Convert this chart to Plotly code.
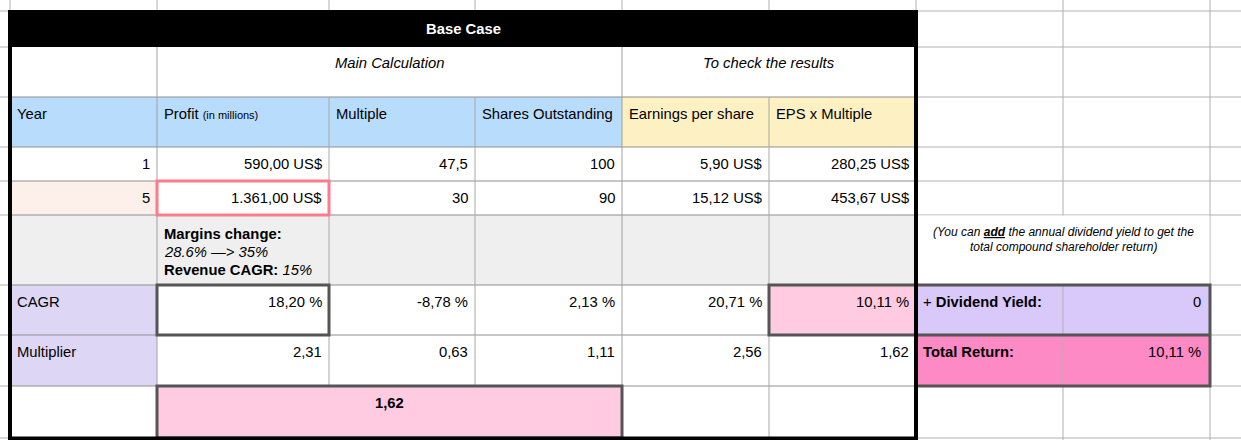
import plotly.graph_objects as go

# ---- data ----
headers = ["Year", "Profit", "Multiple", "Shares Outstanding", "Earnings per share", "EPS x Multiple"]
years = [1, 5]
profit = [590.00, 1361.00]
multiple = [47.5, 30]
shares = [100, 90]
eps = [5.90, 15.12]
eps_x_multiple = [280.25, 453.67]
cagr = [18.20, -8.78, 2.13, 20.71, 10.11]
multiplier = [2.31, 0.63, 1.11, 2.56, 1.62]
overall_multiplier = 1.62
dividend_yield = 0
total_return = 10.11

# ---- grid geometry (pixels of the sheet) ----
COL = [0, 10, 157, 329, 475, 622, 769, 916, 1063, 1210, 1241]
ROW = [0, 11, 47, 97, 147, 181, 215, 285, 335, 386, 438, 440]
W, H = 1241, 440
FONT = "Liberation Sans, Arial, Helvetica, sans-serif"
FS = 14.8


def de(v, dec=2):
    # german style number: 1.361,00
    s = f"{v:,.{dec}f}"
    return s.replace(",", "X").replace(".", ",").replace("X", ".")


def num(v):
    s = f"{v:g}"
    return s.replace(".", ",")


shapes = []
annotations = []


def rect(x0, y0, x1, y1, fill=None, line=None, lw=0):
    shapes.append(dict(type="rect", xref="x", yref="y", x0=x0, y0=y0, x1=x1, y1=y1,
                       fillcolor=fill if fill else "rgba(0,0,0,0)",
                       line=dict(color=line if line else "rgba(0,0,0,0)", width=lw)))


def hline(x0, x1, y, color="#b0b0b0", w=1):
    shapes.append(dict(type="line", xref="x", yref="y", x0=x0, x1=x1, y0=y, y1=y,
                       line=dict(color=color, width=w)))


def vline(x, y0, y1, color="#b0b0b0", w=1):
    shapes.append(dict(type="line", xref="x", yref="y", x0=x, x1=x, y0=y0, y1=y1,
                       line=dict(color=color, width=w)))


def text(t, x, y, anchor="left", size=FS, color="black"):
    annotations.append(dict(text=t, x=x, y=y, xref="x", yref="y", xanchor=anchor,
                            yanchor="middle", showarrow=False,
                            font=dict(family=FONT, size=size, color=color)))


def cell(ci, ri):
    return COL[ci], ROW[ri], COL[ci + 1], ROW[ri + 1]


BLUE = "#b8dcfb"
YELLOW = "#fdf0c2"
PEACH = "#fdf0ea"
GRAY = "#efefef"
LAV = "#ddd6f4"
PINK = "#fecbe1"
PURPLE = "#d9c9fb"
HOTPINK = "#fd8ac4"
DARK = "#555555"

# ---- fills ----
for i in range(6):
    x0, y0, x1, y1 = cell(i + 1, 3)
    rect(x0, y0, x1, y1, BLUE if i < 4 else YELLOW)
x0, y0, x1, y1 = cell(1, 5)
rect(x0, y0, x1, y1, PEACH)
rect(COL[1], ROW[6], COL[7], ROW[7], GRAY)
rect(COL[1], ROW[7], COL[2], ROW[9], LAV)
rect(COL[6], ROW[7], COL[7], ROW[8], PINK)
rect(COL[7], ROW[7], COL[9], ROW[8], PURPLE)
rect(COL[7], ROW[8], COL[9], ROW[9], HOTPINK)

# ---- gridlines ----
for y in ROW[1:-1]:
    inner = y > ROW[2]
    hline(0, COL[1], y)
    hline(COL[7], W, y)
    if inner:
        hline(COL[1], COL[7], y, "#8f8f8f")
for x in COL[1:-1]:
    if x in (COL[1],):
        vline(x, 0, ROW[1])
        continue
    if x <= COL[7]:
        vline(x, 0, ROW[1])
        if x in (COL[2], COL[5]):
            vline(x, ROW[2], ROW[10], "#a0a0a0")
        elif x < COL[7]:
            vline(x, ROW[3], ROW[10], "#a8a8a8")
    else:
        vline(x, 0, H)

# merged cells: cover inner lines
rect(COL[7] + 1, ROW[6] + 0.6, COL[9] - 0.6, ROW[7] - 0.6, "white")
rect(COL[2], ROW[9], COL[5], ROW[10], PINK)

# ---- thick borders ----
rect(COL[2], ROW[5], COL[3], ROW[6], None, "#fc7c8c", 3)
rect(COL[2], ROW[7], COL[3], ROW[8], None, DARK, 3)
rect(COL[6], ROW[7], COL[7], ROW[8], None, DARK, 3)
rect(COL[2], ROW[9], COL[5], ROW[10], None, DARK, 3)
rect(COL[7], ROW[7], COL[9], ROW[9], None, DARK, 3)
hline(COL[7], COL[9], ROW[8], DARK, 3)

# ---- black frame ----
rect(8, 10, 918, ROW[2], "black")
rect(8, 10, 12, H, "black")
rect(914, 10, 918, H, "black")
rect(8, 436.5, 918, H + 2, "black")

# ---- texts ----
PAD_L, PAD_R, OFF = 5, 5, 16.5
text("<b>Base Case</b>", (8 + 918) / 2, 29, "center", FS, "white")
text("<i>Main Calculation</i>", (COL[2] + COL[5]) / 2, ROW[2] + 16, "center")
text("<i>To check the results</i>", (COL[5] + COL[7]) / 2, ROW[2] + 16, "center")

for i, h in enumerate(headers):
    t = h
    if h == "Profit":
        t = "Profit <span style='font-size:11px'>(in millions)</span>"
    text(t, COL[i + 1] + PAD_L, ROW[3] + OFF, "left")

rows_vals = [
    [str(y) for y in years],
    [de(v) + " US$" for v in profit],
    [num(v) for v in multiple],
    [str(v) for v in shares],
    [de(v) + " US$" for v in eps],
    [de(v) + " US$" for v in eps_x_multiple],
]
for i, col in enumerate(rows_vals):
    for r, v in enumerate(col):
        text(v, COL[i + 2] - PAD_R, ROW[4 + r] + OFF, "right")

# margins note
text("<b>Margins change:</b>", COL[2] + 5, ROW[6] + 19, "left", 14.8)
text("<i>28.6% —> 35%</i>", COL[2] + 5, ROW[6] + 37, "left", 14.8)
text("<b>Revenue CAGR:</b> <i>15%</i>", COL[2] + 5, ROW[6] + 55, "left", 14.8)

text("CAGR", COL[1] + PAD_L, ROW[7] + OFF, "left")
text("Multiplier", COL[1] + PAD_L, ROW[8] + OFF, "left")
for i, v in enumerate(cagr):
    text(de(v) + " %", COL[i + 3] - PAD_R, ROW[7] + OFF, "right")
for i, v in enumerate(multiplier):
    text(de(v), COL[i + 3] - PAD_R, ROW[8] + OFF, "right")
text("<b>" + de(overall_multiplier) + "</b>", (COL[2] + COL[5]) / 2, ROW[9] + OFF, "center")

# right side box
text("<i>(You can <b><u>add</u></b> the annual dividend yield to get the</i>",
     (COL[7] + COL[9]) / 2, ROW[6] + 17, "center", 12)
text("<i>total compound shareholder return)</i>",
     (COL[7] + COL[9]) / 2, ROW[6] + 32, "center", 12)
text("+ <b>Dividend Yield:</b>", COL[7] + PAD_L, ROW[7] + OFF, "left")
text(str(dividend_yield), COL[9] - PAD_R - 2, ROW[7] + OFF, "right")
text("<b>Total Return:</b>", COL[7] + PAD_L, ROW[8] + OFF, "left")
text(de(total_return) + " %", COL[9] - PAD_R - 2, ROW[8] + OFF, "right")

fig = go.Figure()
fig.update_layout(
    width=W, height=H,
    margin=dict(l=0, r=0, t=0, b=0),
    paper_bgcolor="white", plot_bgcolor="white",
    xaxis=dict(range=[0, W], visible=False, fixedrange=True),
    yaxis=dict(range=[H, 0], visible=False, fixedrange=True),
    shapes=shapes, annotations=annotations, showlegend=False,
)
fig.write_html("out.html", config={"displayModeBar": False},
               post_script="document.body.style.margin='0';document.body.style.overflow='hidden';")
